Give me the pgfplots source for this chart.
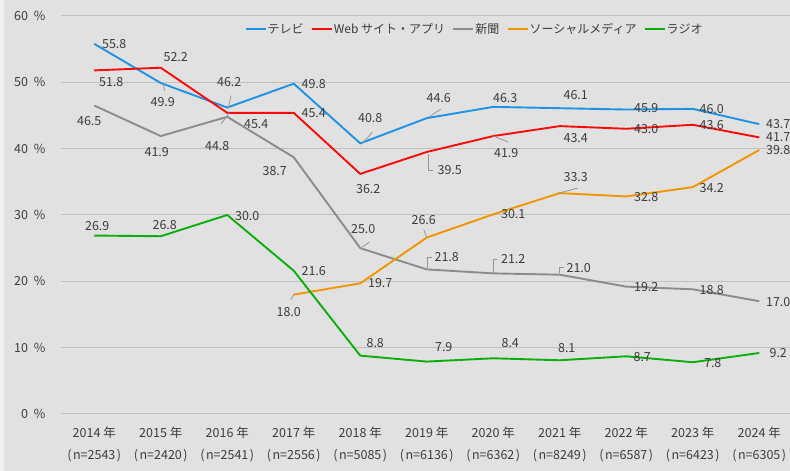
\documentclass[border=0pt]{standalone}
\usepackage{pgfplots}
\pgfplotsset{compat=1.18}
\usepackage{fontspec}
\setmainfont{Noto Sans CJK JP}
\definecolor{bggray}{RGB}{225,225,225}
\definecolor{stripgray}{RGB}{240,240,240}
\definecolor{gridgray}{RGB}{192,192,192}
\definecolor{txtgray}{RGB}{60,60,60}
\definecolor{cblue}{RGB}{30,146,230}
\definecolor{cred}{RGB}{250,10,10}
\definecolor{cgray}{RGB}{140,140,140}
\definecolor{corange}{RGB}{242,150,0}
\definecolor{cgreen}{RGB}{10,175,10}
\definecolor{leadgray}{RGB}{150,150,150}
\tikzset{lbl/.style={text=txtgray, inner sep=0pt, font=\fontsize{12.5pt}{14pt}\selectfont}}
\newcommand{\lb}[4]{\node[lbl] at ([shift={(#3pt,#4pt)}]axis cs:#1,#2) {#2};}
\newcommand{\ld}[5]{\draw[leadgray, line width=0.8pt] ([shift={(#3pt,#4pt)}]axis cs:#1,#2) -- ([shift={(#5)}]axis cs:#1,#2);}
\newcommand{\nn}[1]{(\kern1.5pt n=#1\kern1.5pt)}
\begin{document}
\begin{tikzpicture}[font=\fontsize{12.5pt}{14pt}\selectfont]
\path[use as bounding box] (0,0) rectangle (790pt,471pt);
\fill[bggray] (0,0) rectangle (790pt,471pt);
\fill[stripgray] (0,0) rectangle (4pt,471pt);
\begin{axis}[
  at={(61pt,57pt)}, anchor=south west, scale only axis,
  width=731.5pt, height=398pt,
  xmin=-0.5, xmax=10.5, ymin=0, ymax=60,
  clip=false,
  axis line style={draw=none}, major tick length=0pt,
  ymajorgrids, grid style={gridgray, line width=1pt},
  ytick={0,10,20,30,40,50,60},
  yticklabels={0\hspace{6pt}\%,10\hspace{6pt}\%,20\hspace{6pt}\%,30\hspace{6pt}\%,40\hspace{6pt}\%,50\hspace{6pt}\%,60\hspace{6pt}\%},
  yticklabel style={anchor=east, xshift=-12pt, text=txtgray, font=\fontsize{12.5pt}{14pt}\selectfont},
  xtick={0,...,10},
  xticklabels={{2014 年\\\nn{2543}},{2015 年\\\nn{2420}},{2016 年\\\nn{2541}},{2017 年\\\nn{2556}},{2018 年\\\nn{5085}},{2019 年\\\nn{6136}},{2020 年\\\nn{6362}},{2021 年\\\nn{8249}},{2022 年\\\nn{6587}},{2023 年\\\nn{6423}},{2024 年\\\nn{6305}}},
  xticklabel style={align=center, anchor=north, yshift=-9pt, text=txtgray, font=\fontsize{12.5pt}{22pt}\selectfont},
  legend columns=5,
  legend style={at={(0.5646,0.967)}, anchor=center, draw=none, fill=none, text=txtgray,
    font=\fontsize{12pt}{14pt}\selectfont,
    /tikz/every odd column/.append style={column sep=0pt},
    /tikz/every even column/.append style={column sep=6pt},
    nodes={inner xsep=1pt}},
  legend image code/.code={\draw[#1, line width=2.2pt] (0pt,0pt) -- (20pt,0pt);},
]
\addplot[cblue, line width=1.9pt] coordinates {(0,55.8)(1,49.9)(2,46.2)(3,49.8)(4,40.8)(5,44.6)(6,46.3)(7,46.1)(8,45.9)(9,46.0)(10,43.7)};
\addlegendentry{テレビ}
\addplot[cred, line width=1.9pt] coordinates {(0,51.8)(1,52.2)(2,45.4)(3,45.4)(4,36.2)(5,39.5)(6,41.9)(7,43.4)(8,43.0)(9,43.6)(10,41.7)};
\addlegendentry{Web サイト・アプリ}
\addplot[cgray, line width=1.9pt] coordinates {(0,46.5)(1,41.9)(2,44.8)(3,38.7)(4,25.0)(5,21.8)(6,21.2)(7,21.0)(8,19.2)(9,18.8)(10,17.0)};
\addlegendentry{新聞}
\addplot[corange, line width=1.9pt] coordinates {(3,18.0)(4,19.7)(5,26.6)(6,30.1)(7,33.3)(8,32.8)(9,34.2)(10,39.8)};
\addlegendentry{ソーシャルメディア}
\addplot[cgreen, line width=1.9pt] coordinates {(0,26.9)(1,26.8)(2,30.0)(3,21.6)(4,8.8)(5,7.9)(6,8.4)(7,8.1)(8,8.7)(9,7.8)(10,9.2)};
\addlegendentry{ラジオ}
% leader lines
\ld{1}{49.9}{2}{0}{4pt,-8pt}
\ld{2}{46.2}{1}{0}{4pt,12pt}
\ld{4}{40.8}{2}{0}{12pt,11pt}
\ld{5}{44.6}{2}{1}{14pt,9pt}
\draw[leadgray, line width=0.8pt] ([shift={(2pt,-2pt)}]axis cs:5,39.5) -- ([shift={(2pt,-18pt)}]axis cs:5,39.5) -- ([shift={(6pt,-18pt)}]axis cs:5,39.5);
\ld{6}{41.9}{0}{0}{15pt,-6pt}
\ld{2}{44.8}{2}{4}{-6pt,-7pt}
\ld{4}{25.0}{2}{1}{9pt,6pt}
\draw[leadgray, line width=0.8pt] ([shift={(1pt,1pt)}]axis cs:5,21.8) -- ([shift={(1pt,12pt)}]axis cs:5,21.8) -- ([shift={(5pt,12pt)}]axis cs:5,21.8);
\draw[leadgray, line width=0.8pt] ([shift={(0pt,0pt)}]axis cs:6,21.2) -- ([shift={(0pt,14pt)}]axis cs:6,21.2) -- ([shift={(4pt,14pt)}]axis cs:6,21.2);
\draw[leadgray, line width=0.8pt] ([shift={(0pt,2pt)}]axis cs:7,21.0) -- ([shift={(0pt,7pt)}]axis cs:7,21.0) -- ([shift={(4pt,7pt)}]axis cs:7,21.0);
\ld{3}{18.0}{0}{0}{-3pt,-5pt}
\ld{5}{26.6}{0}{0}{-3pt,8pt}
\ld{7}{33.3}{-1}{0}{18pt,5pt}
% labels blue
\lb{0}{55.8}{20}{0}
\lb{1}{49.9}{2}{-19}
\lb{2}{46.2}{2}{25}
\lb{3}{49.8}{20}{0}
\lb{4}{40.8}{10}{25}
\lb{5}{44.6}{12}{20}
\lb{6}{46.3}{12}{9}
\lb{7}{46.1}{16}{13}
\lb{8}{45.9}{20}{1}
\lb{9}{46.0}{19}{0}
\lb{10}{43.7}{19}{0}
% red
\lb{0}{51.8}{17}{-12}
\lb{1}{52.2}{15}{11}
\lb{2}{45.4}{29}{-11}
\lb{3}{45.4}{20}{0}
\lb{4}{36.2}{8}{-15}
\lb{5}{39.5}{23}{-18}
\lb{6}{41.9}{13}{-17}
\lb{7}{43.4}{16}{-12}
\lb{8}{43.0}{20}{0}
\lb{9}{43.6}{19}{0}
\lb{10}{41.7}{19}{0}
% gray
\lb{0}{46.5}{-5}{-15}
\lb{1}{41.9}{-4}{-16}
\lb{2}{44.8}{-10}{-29}
\lb{3}{38.7}{-19}{-14}
\lb{4}{25.0}{3}{19}
\lb{5}{21.8}{20}{12}
\lb{6}{21.2}{20}{14}
\lb{7}{21.0}{19}{7}
\lb{8}{19.2}{20}{0}
\lb{9}{18.8}{19}{-1}
\lb{10}{17.0}{19}{-1}
% orange
\lb{3}{18.0}{-5}{-17}
\lb{4}{19.7}{20}{0}
\lb{5}{26.6}{-3}{18}
\lb{6}{30.1}{20}{0}
\lb{7}{33.3}{16}{16}
\lb{8}{32.8}{20}{-1}
\lb{9}{34.2}{19}{-1}
\lb{10}{39.8}{19}{0}
% green
\lb{0}{26.9}{3}{10}
\lb{1}{26.8}{4}{11}
\lb{2}{30.0}{20}{-1}
\lb{3}{21.6}{20}{0}
\lb{4}{8.8}{15}{13}
\lb{5}{7.9}{17}{15}
\lb{6}{8.4}{17}{15}
\lb{7}{8.1}{7}{12}
\lb{8}{8.7}{16}{-1}
\lb{9}{7.8}{20}{-1}
\lb{10}{9.2}{19}{0}
\end{axis}
\end{tikzpicture}
\end{document}
